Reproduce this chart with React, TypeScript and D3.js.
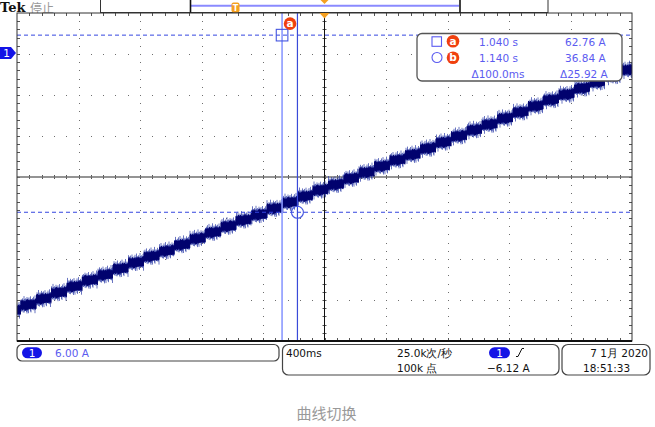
import React, { useMemo } from 'react';
import * as d3 from 'd3';

// ---------- data ----------
const T_START = -0.684; // s at left edge of screen
const SEC_PER_DIV = 0.4; // 400ms/div
const AMP_PER_DIV = 6.0; // 6.00 A/div
const V_BOTTOM = 18.0; // A at bottom edge

// staircase ramp: each step starts at these times (s) with these current levels (A)
const STEP_STARTS = [-0.76, -0.66, -0.56, -0.46, -0.36, -0.26, -0.16, -0.06, 0.04, 0.14, 0.24, 0.34, 0.44, 0.54,
  0.64, 0.74, 0.84, 0.94, 1.04, 1.14, 1.24, 1.34, 1.44, 1.54, 1.64, 1.74, 1.84, 1.94, 2.04, 2.14, 2.24, 2.34,
  2.44, 2.54, 2.64, 2.74, 2.84, 2.94, 3.04, 3.14, 3.24];
const STEP_LEVELS = [22.4, 23.2, 24.1, 25.0, 25.9, 26.8, 27.6, 28.5, 29.4, 30.3, 31.1, 32.0, 32.9, 33.8,
  34.7, 35.6, 36.4, 37.3, 38.2, 39.1, 40.0, 40.8, 41.7, 42.6, 43.5, 44.4, 45.2, 46.1, 47.0, 47.9, 48.8, 49.6,
  50.5, 51.4, 52.3, 53.2, 54.0, 54.9, 55.8, 56.7, 57.6];
const STEP_RISE = 0.2; // A rise inside each step

const CURSOR_LABELS = ['a', 'b'];
const CURSOR_TIMES = [1.040, 1.140];
const CURSOR_VALUES = [62.76, 36.84];
const CURSOR_TIME_TEXT = ['1.040 s', '1.140 s'];
const CURSOR_VALUE_TEXT = ['62.76 A', '36.84 A'];

const CH1_MARKER_LEVEL = 60.15;
const TRIGGER_TIME = 1.316;

const TOP_BRAND = 'Tek';
const TOP_STATE = '停止';
const CH_SCALE_TEXT = '6.00 A';
const TIMEBASE_TEXT = '400ms';
const RATE_TEXT = '25.0k次/秒';
const POINTS_TEXT = '100k 点';
const TRIG_LEVEL_TEXT = '−6.12 A';
const DATE_TEXT = '7 1月 2020';
const TIME_TEXT = '18:51:33';
const CAPTION = '曲线切换';

// ---------- style ----------
const JIT_UP = [3.5, 4.8, 3.1, 5.9, 4.2, 3.6, 6.8, 3.9, 4.5, 3.2, 5.3, 4.0, 3.4, 7.0, 4.6, 3.8, 5.1, 3.3, 4.4, 6.1,
  3.7, 4.9, 3.0, 5.6, 4.1, 3.5, 6.4, 4.3, 3.9];
const JIT_DN = [4.1, 3.3, 5.4, 3.8, 6.5, 3.6, 4.7, 3.2, 5.8, 4.0, 3.4, 4.9, 6.9, 3.7, 4.4, 3.1, 5.2, 4.6, 3.5, 6.0,
  3.9, 4.3, 3.0, 5.5, 4.8, 3.6, 6.6, 4.2, 3.8, 5.0, 3.4];
const SCOPE_FONT = '"DejaVu Sans", sans-serif';
const BLUE_TXT = '#5b5bf0';
const PILL_BLUE = '#1414e6';
const BADGE_RED = '#f0400e';
const ORANGE = '#f5a020';

const L = 17, R = 632, T = 13, B = 341;

export default function App() {
  const x = useMemo(() => d3.scaleLinear().domain([T_START, T_START + 10 * SEC_PER_DIV]).range([L, R]), []);
  const y = useMemo(() => d3.scaleLinear().domain([V_BOTTOM, V_BOTTOM + 8 * AMP_PER_DIV]).range([B, T]), []);

  const xMajor = d3.range(1, 10).map(i => x(T_START + i * SEC_PER_DIV));
  const yMajor = d3.range(1, 8).map(i => y(V_BOTTOM + i * AMP_PER_DIV));
  const xMinor = d3.range(1, 50).map(i => x(T_START + i * SEC_PER_DIV / 5));
  const yMinor = d3.range(1, 40).map(i => y(V_BOTTOM + i * AMP_PER_DIV / 5));
  const xc = x(T_START + 5 * SEC_PER_DIV);
  const yc = y(V_BOTTOM + 4 * AMP_PER_DIV);

  const wave = useMemo(() => {
    let outer = '';
    let core = '';
    let i = 0;
    for (let px = L + 0.5; px < R; px += 0.5, i++) {
      const t = x.invert(px);
      const k = Math.max(0, d3.bisectRight(STEP_STARTS, t) - 1);
      const lv = STEP_LEVELS[k] + STEP_RISE * (t - STEP_STARTS[k]) / 0.1;
      const yy = y(lv);
      const u = 1.3 * JIT_UP[i % JIT_UP.length];
      const d = 1.3 * JIT_DN[(i * 3) % JIT_DN.length];
      outer += `M${px.toFixed(1)},${(yy - u).toFixed(1)}V${(yy + d).toFixed(1)}`;
      const cu = 2.2 + 0.5 * JIT_UP[(i * 5) % JIT_UP.length];
      const cd = 2.2 + 0.5 * JIT_DN[(i * 7) % JIT_DN.length];
      core += `M${px.toFixed(1)},${(yy - cu).toFixed(1)}V${(yy + cd).toFixed(1)}`;
    }
    return { outer, core };
  }, [x, y]);

  const dots: JSX.Element[] = [];
  xMajor.forEach((gx, i) => {
    if (Math.abs(gx - xc) < 1) return;
    yMinor.forEach((gy, j) => dots.push(<rect key={`v${i}-${j}`} x={Math.round(gx)} y={Math.round(gy)} width={1} height={1} fill="#6e6e6e" />));
  });
  yMajor.forEach((gy, i) => {
    if (Math.abs(gy - yc) < 1) return;
    xMinor.forEach((gx, j) => dots.push(<rect key={`h${i}-${j}`} x={Math.round(gx)} y={Math.round(gy)} width={1} height={1} fill="#6e6e6e" />));
  });

  const ticks: JSX.Element[] = [];
  xMinor.forEach((gx, j) => {
    const xx = Math.round(gx) + 0.5;
    ticks.push(<line key={`tt${j}`} x1={xx} x2={xx} y1={T} y2={T + 3} stroke="#555" />);
    ticks.push(<line key={`tb${j}`} x1={xx} x2={xx} y1={B - 3} y2={B} stroke="#555" />);
    ticks.push(<line key={`tc${j}`} x1={xx} x2={xx} y1={yc - 2} y2={yc + 2} stroke="#555" />);
  });
  yMinor.forEach((gy, j) => {
    const yy = Math.round(gy) + 0.5;
    ticks.push(<line key={`tl${j}`} x1={L} x2={L + 3} y1={yy} y2={yy} stroke="#555" />);
    ticks.push(<line key={`tr${j}`} x1={R - 3} x2={R} y1={yy} y2={yy} stroke="#555" />);
    ticks.push(<line key={`tm${j}`} x1={xc - 2} x2={xc + 2} y1={yy} y2={yy} stroke="#555" />);
  });

  const ca = { x: x(CURSOR_TIMES[0]), y: y(CURSOR_VALUES[0]) };
  const cb = { x: x(CURSOR_TIMES[1]), y: y(CURSOR_VALUES[1]) };
  const dT = `Δ${((CURSOR_TIMES[1] - CURSOR_TIMES[0]) * 1000).toFixed(1)}ms`;
  const dV = `Δ${(CURSOR_VALUES[0] - CURSOR_VALUES[1]).toFixed(2)} A`;
  const trigX = x(TRIGGER_TIME);
  const chY = y(CH1_MARKER_LEVEL);

  const badge = (cx: number, cy: number, label: string, key: string) => (
    <g key={key}>
      <circle cx={cx} cy={cy} r={6.3} fill={BADGE_RED} />
      <text x={cx} y={cy + 3.6} textAnchor="middle" fontFamily={SCOPE_FONT} fontSize={10.5} fontWeight="bold" fill="#fff">{label}</text>
    </g>
  );

  return (
    <svg width={655} height={427} style={{ position: 'absolute', left: 0, top: 0, background: '#fff' }} fontFamily={SCOPE_FONT}>
      {/* top bar */}
      <text x={0} y={11.5} fontFamily='"DejaVu Serif", serif' fontWeight="bold" fontSize={13} fill="#111">{TOP_BRAND}</text>
      <text x={30} y={12.5} fontFamily='"Noto Sans CJK SC", sans-serif' fontSize={12} fill="#999">{TOP_STATE}</text>
      <rect x={100.5} y={-1} width={447.5} height={13.5} fill="#fff" stroke="#333" />
      <line x1={191} x2={459} y1={5.7} y2={5.7} stroke="#8a8aff" strokeWidth={2} />
      <line x1={190.5} x2={190.5} y1={0} y2={13} stroke="#111" strokeWidth={1.6} />
      <line x1={460} x2={460} y1={0} y2={13} stroke="#111" strokeWidth={1.6} />
      <rect x={231.5} y={2.5} width={8} height={10} rx={2} fill={ORANGE} />
      <text x={235.5} y={10.8} textAnchor="middle" fontSize={8} fontWeight="bold" fill="#fff">T</text>
      <path d={`M${trigX - 4},0 L${trigX + 4},0 L${trigX},4 Z`} fill={ORANGE} />

      {/* plot area */}
      <rect x={L} y={T} width={R - L} height={B - T} fill="#fff" />
      {dots}
      {ticks}
      <line x1={L} x2={R} y1={yc} y2={yc} stroke="#707070" strokeWidth={1.6} />
      <line x1={xc} x2={xc} y1={T} y2={B} stroke="#111" strokeWidth={1} />

      {/* waveform */}
      <g>
        <path d={wave.outer} stroke="#2a3aa6" strokeWidth={0.7} fill="none" />
        <path d={wave.core} stroke="#00006c" strokeWidth={0.9} fill="none" />
      </g>

      {/* cursors */}
      <line x1={L} x2={R} y1={ca.y} y2={ca.y} stroke="#3546e0" strokeDasharray="4,3" />
      <line x1={L} x2={R} y1={cb.y} y2={cb.y} stroke="#3546e0" strokeDasharray="4,3" />
      <line x1={ca.x} x2={ca.x} y1={T} y2={B} stroke="#8c9aff" strokeWidth={1.6} />
      <line x1={cb.x} x2={cb.x} y1={T} y2={B} stroke="#3a4ad8" strokeWidth={1.2} />
      <rect x={ca.x - 5.8} y={ca.y - 5.8} width={11.6} height={11.6} fill="none" stroke="#4455e0" strokeWidth={1.1} />
      <circle cx={cb.x} cy={cb.y} r={6} fill="none" stroke="#4455e0" strokeWidth={1.1} />
      {badge(ca.x + 8, ca.y - 11.5, CURSOR_LABELS[0], 'pa')}

      {/* frame */}
      <rect x={L} y={T} width={R - L} height={B - T} fill="none" stroke="#333" strokeWidth={1} />
      <line x1={L} x2={R} y1={B} y2={B} stroke="#111" strokeWidth={2} />
      <path d={`M${trigX - 5},${T} L${trigX + 5},${T} L${trigX},${T + 5.5} Z`} fill={ORANGE} />

      {/* channel marker */}
      <path d={`M0,${chY - 6} L11,${chY - 6} L16,${chY} L11,${chY + 6} L0,${chY + 6} Z`} fill={PILL_BLUE} />
      <text x={6.5} y={chY + 4} textAnchor="middle" fontSize={10.5} fill="#fff">1</text>

      {/* readout */}
      <rect x={417} y={33.5} width={205} height={47.5} rx={5} fill="#fff" stroke="#555" strokeWidth={1.3} />
      <rect x={432} y={36.8} width={9.5} height={9.5} fill="none" stroke="#5a5af0" strokeWidth={1.1} />
      <circle cx={437} cy={57.5} r={5} fill="none" stroke="#5a5af0" strokeWidth={1.1} />
      {badge(453, 41.2, CURSOR_LABELS[0], 'ra')}
      {badge(453, 57.7, CURSOR_LABELS[1], 'rb')}
      {CURSOR_TIME_TEXT.map((s, i) => (
        <text key={`t${i}`} x={479} y={45.5 + i * 16.3} fontSize={10.5} fill={BLUE_TXT}>{s}</text>
      ))}
      {CURSOR_VALUE_TEXT.map((s, i) => (
        <text key={`v${i}`} x={565} y={45.5 + i * 16.3} fontSize={10.5} fill={BLUE_TXT}>{s}</text>
      ))}
      <text x={471.5} y={78} fontSize={10.5} fill={BLUE_TXT}>{dT}</text>
      <text x={560} y={78} fontSize={10.5} fill={BLUE_TXT}>{dV}</text>

      {/* bottom status */}
      <rect x={17} y={344.5} width={262} height={16.5} rx={5} fill="#fff" stroke="#444" strokeWidth={1.2} />
      <rect x={22} y={347.3} width={20} height={11} rx={5.5} fill={PILL_BLUE} />
      <text x={32} y={356.5} textAnchor="middle" fontSize={10.5} fill="#fff">1</text>
      <text x={55} y={357} fontSize={10.5} fill={BLUE_TXT}>{CH_SCALE_TEXT}</text>

      <rect x={282.5} y={344.5} width={276.5} height={30.5} rx={6} fill="#fff" stroke="#444" strokeWidth={1.2} />
      <text x={286} y={357} fontSize={10.5} fill="#111">{TIMEBASE_TEXT}</text>
      <text x={397} y={357} fontSize={10.5} fill="#111">{RATE_TEXT}</text>
      <text x={397} y={372} fontSize={10.5} fill="#111">{POINTS_TEXT}</text>
      <rect x={489} y={347.3} width={21} height={11} rx={5.5} fill={PILL_BLUE} />
      <text x={499.5} y={356.5} textAnchor="middle" fontSize={10.5} fill="#fff">1</text>
      <path d="M516,356.5 H518 L522,348.5 H524" fill="none" stroke="#111" strokeWidth={1} />
      <text x={487} y={372} fontSize={10.5} fill="#111">{TRIG_LEVEL_TEXT}</text>

      <rect x={562} y={344.5} width={88} height={30.5} rx={6} fill="#fff" stroke="#444" strokeWidth={1.2} />
      <text x={648} y={357} textAnchor="end" fontSize={10.5} fill="#111">{DATE_TEXT}</text>
      <text x={583} y={372} fontSize={10.5} fill="#111">{TIME_TEXT}</text>

      <text x={326.5} y={419} textAnchor="middle" fontFamily='"Noto Sans CJK SC", sans-serif' fontSize={15} fill="#999">{CAPTION}</text>
    </svg>
  );
}
